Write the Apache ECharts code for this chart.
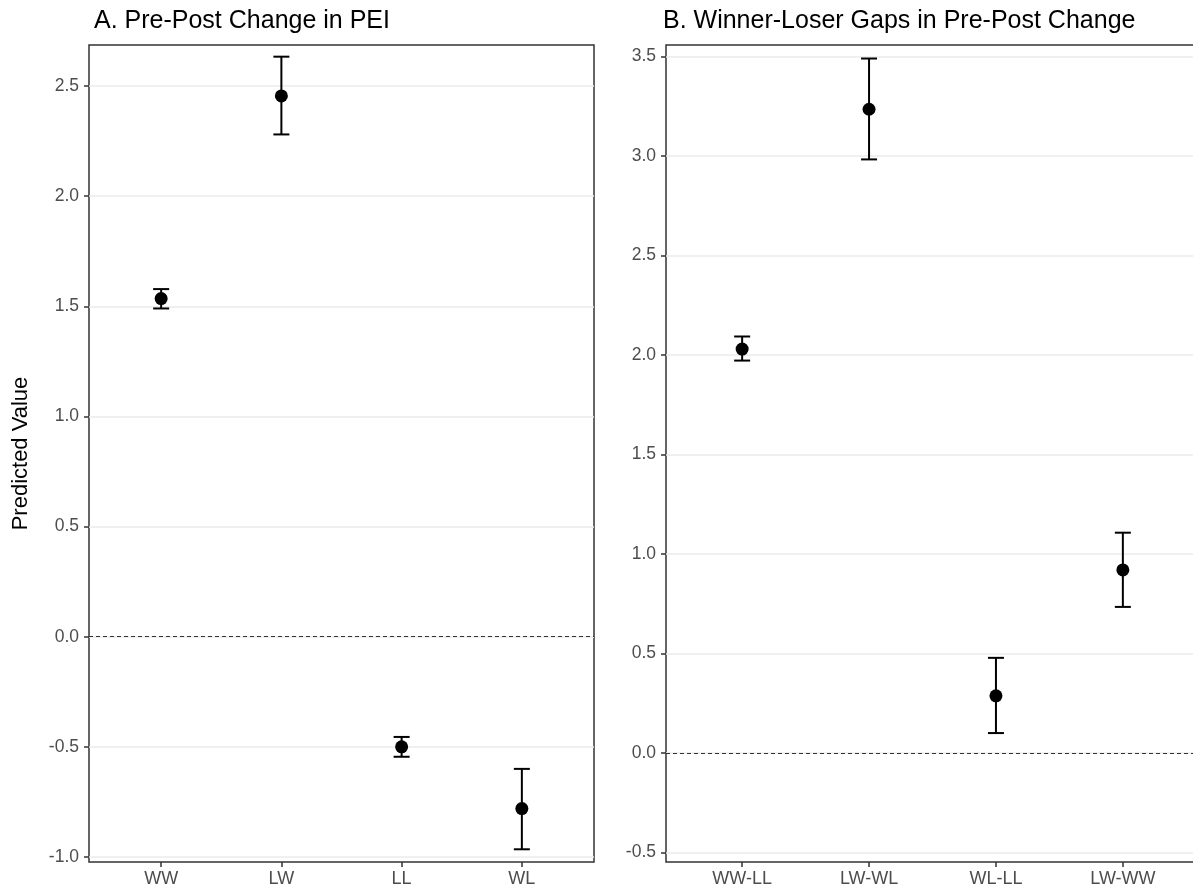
<!DOCTYPE html>
<html>
<head>
<meta charset="utf-8">
<script src="https://cdn.jsdelivr.net/npm/echarts@6/dist/echarts.min.js"></script>
<style>
html,body{margin:0;padding:0;background:#fff;}
#chart{width:1193px;height:894px;}
</style>
</head>
<body>
<div id="chart"></div>
<script>
// ---- Data ----
const catsA = ['WW', 'LW', 'LL', 'WL'];
const estA  = [1.535, 2.455, -0.50, -0.78];
const lowA  = [1.49, 2.28, -0.545, -0.965];
const highA = [1.578, 2.633, -0.455, -0.60];
const ticksA = [-1.0, -0.5, 0.0, 0.5, 1.0, 1.5, 2.0, 2.5];

const catsB = ['WW-LL', 'LW-WL', 'WL-LL', 'LW-WW'];
const estB  = [2.03, 3.235, 0.287, 0.92];
const lowB  = [1.972, 2.983, 0.10, 0.734];
const highB = [2.093, 3.49, 0.478, 1.107];
const ticksB = [-0.5, 0.0, 0.5, 1.0, 1.5, 2.0, 2.5, 3.0, 3.5];

const titleA = 'A. Pre-Post Change in PEI';
const titleB = 'B. Winner-Loser Gaps in Pre-Post Change';
const yName = 'Predicted Value';

// ---- Build ----
const FONT = '"Liberation Sans", Arial, Helvetica, sans-serif';
const catPos = cats => cats.map((c, i) => i + 1);

function xAxisFor(cats, gridIndex) {
  const pos = catPos(cats);
  return {
    type: 'value', gridIndex: gridIndex, position: 'bottom',
    min: 0.4, max: cats.length + 0.6, splitNumber: 4,
    axisLine: {show: false, onZero: false},
    splitLine: {show: false},
    axisTick: {show: true, length: 5, customValues: pos, lineStyle: {color: '#333', width: 1.5}},
    axisLabel: {
      customValues: pos, margin: 8, fontSize: 18, color: '#4d4d4d', fontFamily: FONT,
      formatter: v => {
        const i = Math.round(v);
        return (Math.abs(v - i) < 1e-6 && i >= 1 && i <= cats.length) ? cats[i - 1] : '';
      }
    }
  };
}
function yAxisFor(ticks, min, max, split, gridIndex, name) {
  return {
    type: 'value', gridIndex: gridIndex, position: 'left', min: min, max: max, splitNumber: split,
    name: name || '', nameLocation: 'middle', nameGap: 57, nameRotate: 90,
    nameTextStyle: {fontSize: 22, color: '#000', fontFamily: FONT},
    axisLine: {show: false, onZero: false},
    axisTick: {show: true, length: 5, customValues: ticks, lineStyle: {color: '#333', width: 1.5}},
    axisLabel: {
      customValues: ticks, margin: 10, fontSize: 17.5, color: '#4d4d4d', fontFamily: FONT,
      formatter: v => v.toFixed(1)
    },
    splitLine: {show: true, lineStyle: {color: '#ebebeb', width: 1.6}}
  };
}

function errData(cats, lo, hi) { return cats.map((c, i) => [i + 1, lo[i], hi[i]]); }
function ptData(cats, est) { return cats.map((c, i) => [i + 1, est[i]]); }

function renderErr(params, api) {
  const x = api.value(0);
  const p1 = api.coord([x, api.value(1)]);
  const p2 = api.coord([x, api.value(2)]);
  const hw = 8;
  const st = {stroke: '#000', lineWidth: 2};
  return {
    type: 'group',
    children: [
      {type: 'line', shape: {x1: p1[0], y1: p1[1], x2: p2[0], y2: p2[1]}, style: st},
      {type: 'line', shape: {x1: p1[0] - hw, y1: p1[1], x2: p1[0] + hw, y2: p1[1]}, style: st},
      {type: 'line', shape: {x1: p2[0] - hw, y1: p2[1], x2: p2[0] + hw, y2: p2[1]}, style: st}
    ]
  };
}

function seriesFor(cats, est, lo, hi, idx) {
  return [
    {
      type: 'scatter', xAxisIndex: idx, yAxisIndex: idx, data: [], silent: true,
      markLine: {
        silent: true, symbol: 'none', label: {show: false},
        lineStyle: {color: '#333', type: [4, 3], width: 1, opacity: 1},
        data: [{yAxis: 0}]
      }
    },
    {
      type: 'custom', xAxisIndex: idx, yAxisIndex: idx, renderItem: renderErr,
      encode: {x: 0, y: [1, 2]}, data: errData(cats, lo, hi), z: 3, silent: true
    },
    {
      type: 'scatter', xAxisIndex: idx, yAxisIndex: idx, data: ptData(cats, est),
      symbol: 'circle', symbolSize: 13, itemStyle: {color: '#000', opacity: 1}, z: 4, silent: true
    }
  ];
}

const chart = echarts.init(document.getElementById('chart'), null, {renderer: 'canvas'});
chart.setOption({
  animation: false,
  backgroundColor: '#fff',
  title: [
    {text: titleA, left: 89, top: 4, textStyle: {fontSize: 25, fontWeight: 'normal', color: '#000', fontFamily: FONT}},
    {text: titleB, left: 658, top: 4, textStyle: {fontSize: 25, fontWeight: 'normal', color: '#000', fontFamily: FONT}}
  ],
  grid: [
    {left: 89, width: 505, top: 45, bottom: 32, show: true, borderColor: '#333', borderWidth: 1.5,
     backgroundColor: 'transparent', outerBoundsMode: 'none'},
    {left: 666, width: 533, top: 45, bottom: 32, show: true, borderColor: '#333', borderWidth: 1.5,
     backgroundColor: 'transparent', outerBoundsMode: 'none'}
  ],
  xAxis: [xAxisFor(catsA, 0), xAxisFor(catsB, 1)],
  yAxis: [
    yAxisFor(ticksA, -1.0227, 2.686, 7, 0, yName),
    yAxisFor(ticksB, -0.548, 3.558, 8, 1, '')
  ],
  series: [].concat(seriesFor(catsA, estA, lowA, highA, 0), seriesFor(catsB, estB, lowB, highB, 1))
});
</script>
</body>
</html>
